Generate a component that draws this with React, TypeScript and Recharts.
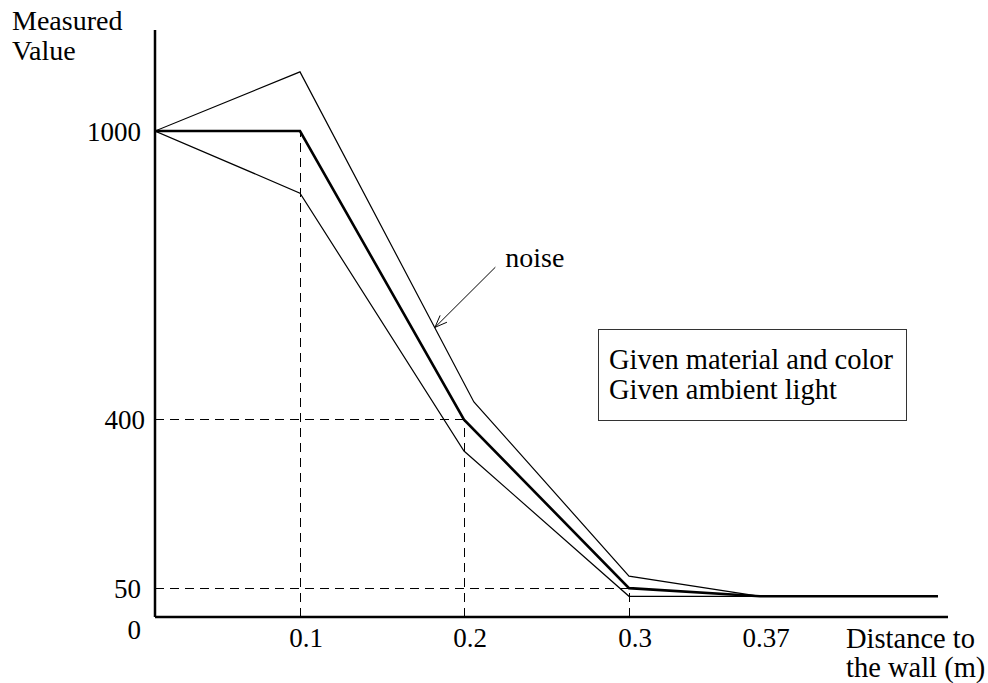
import { LineChart, Line, XAxis, YAxis, ReferenceLine } from "recharts";

const mainDist = [0, 0.1, 0.2, 0.3, 0.37, 0.5];
const mainValue = [1000, 1000, 400, 50, 33, 33];

const upperDist = [0, 0.1, 0.206, 0.3, 0.37, 0.5];
const upperValue = [1000, 1123, 437, 75, 33, 33];

const lowerDist = [0, 0.1, 0.2, 0.3, 0.37, 0.5];
const lowerValue = [1000, 871, 335, 33, 33, 33];

const xTicks = [0.1, 0.2, 0.3, 0.37];
const xTickLabels = ["0.1", "0.2", "0.3", "0.37"];
const yTicks = [0, 50, 400, 1000];
const hGuides = [400, 50];

// the sketch is not drawn to scale: stretch of the x axis between distances
const stretchDist = [0, 0.1, 0.2, 0.3, 0.37, 0.5];
const stretchPos = [0, 145, 309, 474, 605, 783];

const place = (d: number) => {
  for (let i = 1; i < stretchDist.length; i++) {
    if (d <= stretchDist[i]) {
      const t = (d - stretchDist[i - 1]) / (stretchDist[i] - stretchDist[i - 1]);
      return stretchPos[i - 1] + t * (stretchPos[i] - stretchPos[i - 1]);
    }
  }
  return stretchPos[stretchPos.length - 1];
};

const toRows = (dist: number[], vals: number[]) =>
  dist.map((d, i) => ({ x: place(d), v: vals[i] }));

const mainData = toRows(mainDist, mainValue);
const upperData = toRows(upperDist, upperValue);
const lowerData = toRows(lowerDist, lowerValue);

const valueAt = (d: number) => mainValue[mainDist.indexOf(d)];

const FONT = "'Liberation Serif', 'Times New Roman', serif";

const XTick = ({ x, y, payload }: any) => {
  const idx = xTicks.findIndex((d) => Math.abs(place(d) - payload.value) < 0.01);
  return (
    <text x={x + 6} y={y} dy="0.71em" textAnchor="middle" fontSize={27} fontFamily={FONT} fill="#000">
      {idx >= 0 ? xTickLabels[idx] : ""}
    </text>
  );
};

const YTick = ({ x, y, payload }: any) => (
  <text
    x={payload.value === 400 ? x + 4 : x}
    y={payload.value === 0 ? y + 17 : y}
    dy="0.355em"
    textAnchor="end"
    fontSize={27}
    fontFamily={FONT}
    fill="#000"
  >
    {payload.value}
  </text>
);

const NoiseArrow = (props: any) => {
  const { x1, y1, x2, y2 } = props;
  const ang = Math.atan2(y2 - y1, x2 - x1);
  const len = 13;
  const spread = 0.38;
  const a1x = x2 - len * Math.cos(ang - spread);
  const a1y = y2 - len * Math.sin(ang - spread);
  const a2x = x2 - len * Math.cos(ang + spread);
  const a2y = y2 - len * Math.sin(ang + spread);
  return (
    <g>
      <line x1={x1} y1={y1} x2={x2} y2={y2} stroke="#000" strokeWidth={1} />
      <polyline points={`${a1x},${a1y} ${x2},${y2} ${a2x},${a2y}`} fill="none" stroke="#000" strokeWidth={1} />
      <text x={x1 + 10} y={y1} fontSize={28} fontFamily={FONT} fill="#000">
        noise
      </text>
    </g>
  );
};

export default function App() {
  return (
    <div style={{ position: "absolute", left: 0, top: 0, width: 988, height: 683, background: "#fff", fontFamily: FONT }}>
      <LineChart width={988} height={683} margin={{ top: 30, right: 40, left: 95, bottom: 36 }}>
        <XAxis
          dataKey="x"
          type="number"
          domain={[0, 793]}
          ticks={xTicks.map(place)}
          tick={<XTick />}
          tickLine={false}
          tickSize={0}
          tickMargin={11}
          axisLine={{ stroke: "#000", strokeWidth: 2.5 }}
          height={30}
          allowDataOverflow
        />
        <YAxis
          type="number"
          domain={[-10, 1210]}
          ticks={yTicks}
          tick={<YTick />}
          tickLine={false}
          tickSize={0}
          tickMargin={14}
          axisLine={{ stroke: "#000", strokeWidth: 2.5 }}
          width={60}
          allowDataOverflow
        />
        {xTicks.slice(0, 3).map((d) => (
          <ReferenceLine
            key={"v" + d}
            segment={[
              { x: place(d), y: -10 },
              { x: place(d), y: valueAt(d) },
            ]}
            stroke="#000"
            strokeWidth={1}
            strokeDasharray="9 6"
            shapeRendering="crispEdges"
          />
        ))}
        {hGuides.map((v) => (
          <ReferenceLine
            key={"h" + v}
            segment={[
              { x: 0, y: v },
              { x: place(mainDist[mainValue.indexOf(v)]), y: v },
            ]}
            stroke="#000"
            strokeWidth={1}
            strokeDasharray="9 6"
            shapeRendering="crispEdges"
          />
        ))}
        <Line data={upperData} dataKey="v" type="linear" stroke="#000" strokeWidth={1.2} dot={false} activeDot={false} isAnimationActive={false} />
        <Line data={lowerData} dataKey="v" type="linear" stroke="#000" strokeWidth={1.2} dot={false} activeDot={false} isAnimationActive={false} />
        <Line data={mainData} dataKey="v" type="linear" stroke="#000" strokeWidth={2.6} dot={false} activeDot={false} isAnimationActive={false} />
        <ReferenceLine
          segment={[
            { x: place(0.219), y: 717 },
            { x: place(0.1823), y: 592 },
          ]}
          shape={(p: any) => <NoiseArrow {...p} />}
        />
      </LineChart>

      <div style={{ position: "absolute", left: 12, top: 6, fontSize: 28, lineHeight: "30px", color: "#000", whiteSpace: "nowrap" }}>
        Measured
        <br />
        Value
      </div>
      <div style={{ position: "absolute", left: 846, top: 624, fontSize: 28.5, lineHeight: "29px", color: "#000", whiteSpace: "nowrap" }}>
        Distance to
        <br />
        the wall (m)
      </div>
      <div
        style={{
          position: "absolute",
          left: 598,
          top: 329,
          width: 309,
          height: 92,
          boxSizing: "border-box",
          border: "1px solid #333",
          paddingTop: 15,
          paddingLeft: 10,
          fontSize: 28.5,
          lineHeight: "30px",
          color: "#000",
          whiteSpace: "nowrap",
        }}
      >
        Given material and color
        <br />
        Given ambient light
      </div>
    </div>
  );
}
